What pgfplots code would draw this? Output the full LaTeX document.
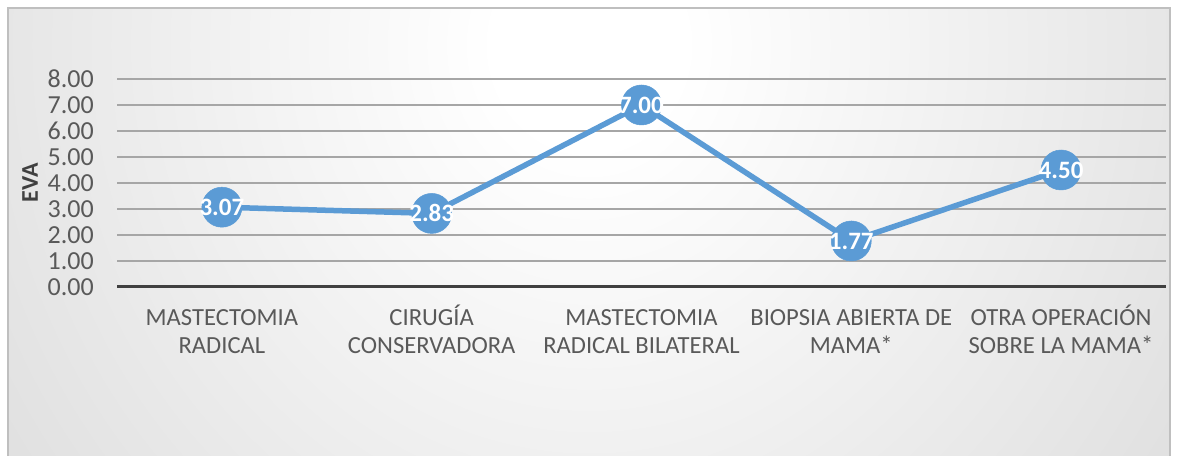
\documentclass[border=0pt]{standalone}
\usepackage{pgfplots}
\pgfplotsset{compat=1.18}
\usepackage{fontspec}
\setmainfont{Carlito}
\definecolor{lineblue}{HTML}{5B9BD5}
\definecolor{txt}{HTML}{595959}
\definecolor{dark}{HTML}{404040}
\definecolor{gridc}{HTML}{A6A6A6}
\pgfdeclareradialshading{bgshade}{\pgfpoint{0bp}{0bp}}{color(0bp)=(white); color(4bp)=(white); color(30bp)=(black!12); color(50bp)=(black!21); color(75bp)=(black!30)}
\newcommand{\TL}[2]{\rule{0pt}{23pt}#1\\#2}
\begin{document}
\fontsize{24}{28}\selectfont
\begin{tikzpicture}[x=1pt,y=1pt]
\fill[white] (0,0) rectangle (1178,456);
\begin{scope}
\clip (8,0) rectangle (1170,448);
\shade[shading=bgshade] (8,-214) rectangle (1170,1036);
\end{scope}
\draw[gray!50, line width=1.2pt] (8,0) -- (8,448) -- (1170,448) -- (1170,0);
\begin{axis}[
  at={(117pt,169pt)}, anchor=south west,
  scale only axis, width=1049pt, height=208pt,
  xmin=-0.5, xmax=4.5, ymin=0, ymax=8,
  ytick={0,1,...,8},
  xtick={0,1,2,3,4},
  xticklabels={{\TL{MASTECTOMIA}{RADICAL}},{\TL{CIRUGÍA}{CONSERVADORA}},{\TL{MASTECTOMIA}{RADICAL BILATERAL}},{\TL{BIOPSIA ABIERTA DE}{MAMA*}},{\TL{OTRA OPERACIÓN}{SOBRE LA MAMA*}}},
  xticklabel style={align=center, text=txt, font=\fontsize{24.6}{28}\selectfont, yshift=-7pt},
  /pgf/number format/assume math mode=true,
  yticklabel={\pgfmathprintnumber[fixed,fixed zerofill,precision=2]{\tick}},
  yticklabel style={text=txt, font=\fontsize{26}{28}\selectfont, xshift=-15pt},
  ymajorgrids, major grid style={draw=gridc, line width=1.6pt},
  major tick length=0pt,
  axis x line*=bottom, axis y line*=left,
  x axis line style={-, draw=dark, line width=3pt},
  y axis line style={draw=none},
  clip=false,
]
\addplot[color=lineblue, line width=5.5pt, mark=*, mark size=20pt,
  mark options={fill=lineblue, draw=lineblue, line width=0.5pt},
  nodes near coords={\pgfmathprintnumber[fixed,fixed zerofill,precision=2]{\pgfplotspointmeta}},
  every node near coord/.append style={anchor=center, text=white, font=\bfseries\fontsize{25}{28}\selectfont},
] coordinates {(0,3.07) (1,2.83) (2,7.00) (3,1.77) (4,4.50)};
\node[xshift=-87pt, rotate=90, anchor=center, text=dark, font=\bfseries\fontsize{24}{28}\selectfont] at (rel axis cs:0,0.5) {EVA};
\end{axis}
\end{tikzpicture}
\end{document}
